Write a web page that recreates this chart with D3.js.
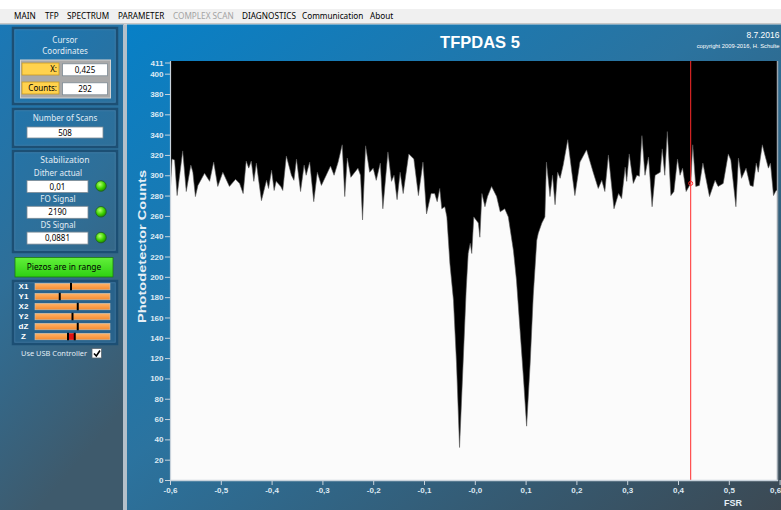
<!DOCTYPE html>
<html lang="en">
<head>
<meta charset="UTF-8">
<title>TFPDAS 5</title>
<script src="https://d3js.org/d3.v7.min.js"></script>
<style>
	html, body {
		margin: 0;
		padding: 0;
		background: #ffffff;
		overflow: hidden;
	}

	svg {
		display: block;
		font-family: "Noto Sans", "Open Sans", sans-serif;
	}

	.menu text {
		font-size: 8.2px;
		fill: #000000;
	}

	.menu text.disabled {
		fill: #a3a3a3;
	}

	.panel text {
		fill: #e2edf5;
		font-size: 8px;
	}

	.panel text.dark {
		fill: #000000;
	}

	.axis text {
		font-family: "Liberation Sans", Arial, sans-serif;
		font-weight: bold;
		font-size: 8px;
		fill: #dde9f3;
	}

	.axis line, .axis path {
		stroke: #c9d3dc;
	}
</style>
</head>
<body>
<svg id="app" width="781" height="510"></svg>
<script>
	const menuItems = ["MAIN", "TFP", "SPECTRUM", "PARAMETER", "COMPLEX SCAN", "DIAGNOSTICS", "Communication", "About"]
	const menuStart = [14, 45, 67, 118, 173, 242, 302, 370]
	const menuDisabled = ["COMPLEX SCAN"]

	// spectrum: FSR position and photodetector counts
	const fsr = [
		-0.600, -0.596, -0.591, -0.586, -0.575, -0.568, -0.559, -0.555, -0.550, -0.545,
		-0.532, -0.522, -0.514, -0.506, -0.496, -0.483, -0.471, -0.463, -0.456, -0.450,
		-0.445, -0.440, -0.435, -0.430, -0.420, -0.410, -0.406, -0.400, -0.395, -0.391,
		-0.382, -0.378, -0.371, -0.361, -0.356, -0.351, -0.343, -0.336, -0.332, -0.325,
		-0.317, -0.310, -0.302, -0.284, -0.277, -0.269, -0.261, -0.256, -0.251, -0.244,
		-0.230, -0.225, -0.221, -0.215, -0.207, -0.200, -0.194, -0.186, -0.181, -0.171,
		-0.164, -0.159, -0.153, -0.147, -0.141, -0.130, -0.120, -0.111, -0.102, -0.095,
		-0.086, -0.079, -0.074, -0.069, -0.065, -0.059,
		-0.055, -0.049, -0.042, -0.036, -0.030, -0.023, -0.017, -0.013, -0.009, -0.006,
		-0.002, 0.007, 0.010, 0.014, 0.020, 0.025, 0.033, 0.043, 0.050, 0.059,
		0.066, 0.076, 0.082, 0.089, 0.096, 0.102, 0.109, 0.115, 0.122, 0.125,
		0.132, 0.138, 0.141,
		0.148, 0.153, 0.158, 0.163, 0.168, 0.174, 0.183, 0.191, 0.197, 0.207,
		0.220, 0.233, 0.243, 0.250, 0.256, 0.263, 0.274, 0.283, 0.289, 0.296,
		0.299, 0.304, 0.312, 0.319, 0.324, 0.329, 0.335, 0.342, 0.349, 0.355,
		0.365, 0.369, 0.374, 0.379, 0.386, 0.392, 0.399, 0.404, 0.409, 0.416,
		0.425, 0.429, 0.435, 0.442, 0.449, 0.462, 0.473, 0.479, 0.489, 0.499,
		0.504, 0.514, 0.519, 0.525, 0.534, 0.542, 0.548, 0.554, 0.558, 0.566,
		0.571, 0.578, 0.582, 0.588, 0.593, 0.600
	]
	const counts = [
		280, 316, 315, 280, 324, 284, 310, 303, 279, 290,
		302, 294, 313, 289, 303, 289, 296, 292, 282, 314,
		307, 314, 294, 312, 275, 295, 287, 305, 285, 294,
		289, 285, 319, 300, 295, 316, 284, 310, 300, 313,
		274, 303, 290, 309, 300, 313, 330, 279, 317, 298,
		307, 300, 256, 329, 303, 307, 295, 312, 267, 323,
		294, 300, 276, 303, 282, 321, 316, 280, 313, 262,
		282, 282, 274, 287, 267, 269,
		259, 213, 177, 115, 32, 115, 187, 223, 233, 223,
		259, 253, 239, 282, 269, 279, 289, 279, 264, 267,
		259, 226, 197, 148, 99, 53, 115, 181, 236, 243,
		253, 259, 313,
		279, 300, 271, 303, 297, 310, 335, 303, 280, 313,
		325, 303, 287, 295, 284, 320, 267, 282, 277, 308,
		294, 321, 292, 300, 299, 339, 300, 318, 269, 300,
		303, 326, 300, 343, 280, 284, 316, 300, 307, 284,
		292, 330, 289, 290, 312, 279, 295, 289, 292, 321,
		315, 269, 317, 297, 307, 290, 289, 312, 303, 330,
		320, 307, 312, 280, 285, 285
	]

	const yTicks = [0, 20, 40, 60, 80, 100, 120, 140, 160, 180, 200, 220, 240, 260, 280, 300, 320, 340, 360, 380, 400, 411]
	const xTicks = [-0.6, -0.5, -0.4, -0.3, -0.2, -0.1, 0, 0.1, 0.2, 0.3, 0.4, 0.5, 0.6]

	const cursorX = 0.425
	const cursorCounts = 292
	const scans = 508
	const stabNames = ["Dither actual", "FO Signal", "DS Signal"]
	const stabValues = ["0,01", "2190", "0,0881"]
	const piezoNames = ["X1", "Y1", "X2", "Y2", "dZ", "Z"]
	const piezoPos = [0.48, 0.33, 0.57, 0.50, 0.57, 0.44]
	const zRange = [0.44, 0.53]

	const svg = d3.select("#app")
	const defs = svg.append("defs")

	function gradient(id, x2, y2, stops) {
		const g = defs.append("linearGradient").attr("id", id)
			.attr("x1", 0).attr("y1", 0).attr("x2", x2).attr("y2", y2)
		stops.forEach(s => g.append("stop").attr("offset", s[0]).attr("stop-color", s[1]))
	}
	gradient("mainBg", 1, 1, [[0, "#0780c7"], [0.45, "#2b739f"], [1, "#3c4953"]])
	gradient("leftBg", 0.3, 1, [[0, "#1a78b6"], [0.5, "#2f6f98"], [1, "#3e5a6c"]])
	gradient("greenBg", 0, 1, [[0, "#62f03a"], [1, "#2ed012"]])
	gradient("orangeBg", 0, 1, [[0, "#ffb46a"], [1, "#f58a2e"]])
	const led = defs.append("radialGradient").attr("id", "led").attr("cx", 0.4).attr("cy", 0.35).attr("r", 0.65)
	led.append("stop").attr("offset", 0).attr("stop-color", "#b8ff70")
	led.append("stop").attr("offset", 0.6).attr("stop-color", "#3fd400")
	led.append("stop").attr("offset", 1).attr("stop-color", "#1f8a00")

	// menu bar
	svg.append("rect").attr("x", 0).attr("y", 0).attr("width", 781).attr("height", 9).attr("fill", "#ffffff")
	svg.append("rect").attr("x", 0).attr("y", 9).attr("width", 781).attr("height", 14).attr("fill", "#f0f0f0")
	svg.append("rect").attr("x", 0).attr("y", 23).attr("width", 781).attr("height", 1.5).attr("fill", "#c6c6c6")
	svg.append("g").classed("menu", true)
		.selectAll("text")
		.data(menuItems)
		.join("text")
		.classed("disabled", d => menuDisabled.includes(d))
		.attr("x", (d, i) => menuStart[i])
		.attr("y", 18.6)
		.text(d => d)

	// backgrounds
	svg.append("rect").attr("x", 0).attr("y", 24.5).attr("width", 124).attr("height", 486).attr("fill", "url(#leftBg)")
	svg.append("rect").attr("x", 127).attr("y", 24.5).attr("width", 654).attr("height", 486).attr("fill", "url(#mainBg)")
	svg.append("rect").attr("x", 123).attr("y", 24.5).attr("width", 4).attr("height", 486).attr("fill", "#b4c0ca")

	// left panel
	const panel = svg.append("g").classed("panel", true)

	function box(x, y, w, h, fill) {
		panel.append("rect").attr("x", x + 1).attr("y", y + 1).attr("width", w - 2).attr("height", h - 2)
			.attr("fill", fill || "none").attr("stroke", "#1c4f74").attr("stroke-width", 2.5)
		panel.append("rect").attr("x", x + 2.8).attr("y", y + 2.8).attr("width", w - 5.6).attr("height", h - 5.6)
			.attr("fill", "none").attr("stroke", "#5d92b8").attr("stroke-opacity", 0.45).attr("stroke-width", 0.8)
	}

	function field(x, y, w, h, value) {
		panel.append("rect").attr("x", x).attr("y", y).attr("width", w).attr("height", h)
			.attr("fill", "#ffffff").attr("stroke", "#7d8a94").attr("stroke-width", 0.8)
		panel.append("text").classed("dark", true).attr("text-anchor", "middle")
			.attr("x", x + w / 2).attr("y", y + h / 2 + 3).text(value)
	}

	function label(text, x, y) {
		return panel.append("text").attr("text-anchor", "middle").attr("x", x).attr("y", y).text(text)
	}

	box(12, 27, 106, 78)
	label("Cursor", 65, 43)
	label("Coordinates", 65, 54)
	panel.append("rect").attr("x", 20.5).attr("y", 60).attr("width", 90).attr("height", 38)
		.attr("fill", "#a9a9a9").attr("stroke", "#d4d4d4").attr("stroke-width", 1)
	const coordNames = ["X:", "Counts:"]
	const coordValues = [cursorX.toFixed(3).replace(".", ","), String(cursorCounts)]
	coordNames.forEach(function (n, i) {
		const y = 63 + i * 19
		panel.append("rect").attr("x", 22).attr("y", y).attr("width", 37).attr("height", 12)
			.attr("fill", "#ffd24d").attr("stroke", "#c79a23").attr("stroke-width", 0.8)
		panel.append("text").classed("dark", true).attr("x", 57).attr("y", y + 9).attr("text-anchor", "end").text(n)
		field(62.5, y + 0.8, 45, 12, coordValues[i])
	})

	box(12, 108, 106, 40)
	label("Number of Scans", 65, 121)
	field(27, 127, 76, 11, String(scans))

	box(12, 150, 106, 103)
	label("Stabilization", 65, 162.5).style("font-size", "8.6px")
	stabNames.forEach(function (n, i) {
		const y = 180.5 + i * 25.8
		label(n, 58, y - 4.5)
		field(27, y, 61, 12, stabValues[i])
		panel.append("circle").attr("cx", 101).attr("cy", y + 5.5).attr("r", 5.3)
			.attr("fill", "url(#led)").attr("stroke", "#1e5a28").attr("stroke-width", 0.8)
	})

	panel.append("rect").attr("x", 15).attr("y", 257.5).attr("width", 98).attr("height", 19.5)
		.attr("fill", "url(#greenBg)").attr("stroke", "#1d7a10").attr("stroke-width", 0.8)
	panel.append("text").classed("dark", true).attr("text-anchor", "middle")
		.attr("x", 64).attr("y", 270.3).style("font-size", "8.4px").text("Piezos are in range")

	box(12, 280, 106, 65, "#28628b")
	const bar = d3.scaleLinear().domain([0, 1]).range([35, 110])
	piezoNames.forEach(function (n, i) {
		const cy = 286.3 + i * 10
		panel.append("text").attr("text-anchor", "middle").attr("x", 23.5).attr("y", cy + 3)
			.style("font-family", "Liberation Sans, Arial, sans-serif")
			.style("font-weight", "bold").style("font-size", "8px").style("fill", "#ffffff")
			.text(n)
		panel.append("rect").attr("x", bar(0)).attr("y", cy - 3).attr("width", bar(1) - bar(0)).attr("height", 6.5)
			.attr("fill", "url(#orangeBg)").attr("stroke", "#c9c1b8").attr("stroke-width", 0.6)
		if (n === "Z") {
			panel.append("rect").attr("x", bar(zRange[0])).attr("y", cy - 3).attr("width", bar(zRange[1]) - bar(zRange[0]))
				.attr("height", 6.5).attr("fill", "#e01212")
			zRange.forEach(v => panel.append("rect").attr("x", bar(v) - 1).attr("y", cy - 3.5).attr("width", 2).attr("height", 7.5).attr("fill", "#000"))
		} else {
			panel.append("rect").attr("x", bar(piezoPos[i]) - 1).attr("y", cy - 3.5).attr("width", 2).attr("height", 7.5).attr("fill", "#000")
		}
	})

	panel.append("text").attr("x", 21).attr("y", 356).attr("text-anchor", "start")
		.style("font-size", "7.4px").text("Use USB Controller")
	panel.append("rect").attr("x", 92).attr("y", 348.5).attr("width", 9.5).attr("height", 9.5)
		.attr("fill", "#ffffff").attr("stroke", "#5a6670").attr("stroke-width", 0.8)
	panel.append("path").attr("d", "M94,353.5 L96.3,356 L100,350.5").attr("fill", "none")
		.attr("stroke", "#000").attr("stroke-width", 1.6)

	// header of the main panel
	svg.append("text").attr("x", 480).attr("y", 48.4).attr("text-anchor", "middle")
		.style("font-family", "Liberation Sans, Arial, sans-serif").style("font-weight", "bold")
		.style("font-size", "16.5px").style("fill", "#ffffff").text("TFPDAS 5")
	svg.append("text").attr("x", 779.5).attr("y", 38.3).attr("text-anchor", "end")
		.style("font-family", "Liberation Sans, Arial, sans-serif").style("font-size", "8.5px").style("fill", "#ffffff")
		.text("8.7.2016")
	svg.append("text").attr("x", 779.5).attr("y", 47.5).attr("text-anchor", "end")
		.style("font-family", "Liberation Sans, Arial, sans-serif").style("font-size", "5.8px").style("fill", "#ffffff")
		.text("copyright 2009-2016, H. Schulte")

	// plot
	const plot = { left: 170, right: 777, top: 61, bottom: 480 }
	const x = d3.scaleLinear().domain([-0.6, 0.6]).range([170, 779.6])
	const y = d3.scaleLinear().domain([0, 411]).range([480, 62.5])
	const data = fsr.map((f, i) => [f, counts[i]])

	defs.append("clipPath").attr("id", "plotClip").append("rect")
		.attr("x", plot.left).attr("y", plot.top).attr("width", plot.right - plot.left).attr("height", plot.bottom - plot.top)

	const g = svg.append("g").attr("clip-path", "url(#plotClip)")
	g.append("rect").attr("x", plot.left).attr("y", plot.top).attr("width", plot.right - plot.left)
		.attr("height", plot.bottom - plot.top).attr("fill", "#000000")
	g.append("path").datum(data)
		.attr("fill", "#fbfbfb")
		.attr("d", d3.area().x(d => x(d[0])).y0(y(0)).y1(d => y(d[1])))
	g.append("path").datum(data)
		.attr("fill", "none").attr("stroke", "#5a5a5a").attr("stroke-width", 0.6)
		.attr("d", d3.line().x(d => x(d[0])).y(d => y(d[1])))
	g.append("line").attr("x1", x(cursorX)).attr("x2", x(cursorX)).attr("y1", plot.top).attr("y2", plot.bottom)
		.attr("stroke", "#ff2a2a").attr("stroke-width", 1)
	g.append("circle").attr("cx", x(cursorX)).attr("cy", y(cursorCounts)).attr("r", 2)
		.attr("fill", "none").attr("stroke", "#ff2a2a").attr("stroke-width", 1)

	// frame
	svg.append("line").attr("x1", plot.right + 0.5).attr("x2", plot.right + 0.5).attr("y1", plot.top).attr("y2", plot.bottom + 1)
		.attr("stroke", "#9aa4ad").attr("stroke-width", 1.5)

	const yAxis = svg.append("g").classed("axis", true)
		.attr("transform", "translate(" + plot.left + ",0)")
		.call(d3.axisLeft(y).tickValues(yTicks).tickSize(5).tickSizeOuter(0).tickPadding(1.5).tickFormat(d => d))
	yAxis.select(".domain").attr("d", "M0.5," + plot.top + "V" + plot.bottom).attr("stroke-width", 1.2)

	const xAxis = svg.append("g").classed("axis", true)
		.attr("transform", "translate(0," + plot.bottom + ")")
		.call(d3.axisBottom(x).tickValues(xTicks).tickSize(5).tickSizeOuter(0).tickPadding(2.5)
			.tickFormat(d => (d <= 0 ? "-" : "") + Math.abs(d).toFixed(1).replace(".", ",")))
	xAxis.select(".domain").attr("d", "M" + plot.left + ",0.5H" + (plot.right + 1)).attr("stroke", "#9aa4ad").attr("stroke-width", 1.5)
	xAxis.selectAll(".tick text").filter(d => d === 0.6).attr("text-anchor", "end").attr("dx", 1)

	svg.append("text")
		.attr("transform", "translate(146,323) rotate(-90)")
		.attr("textLength", 153).attr("lengthAdjust", "spacingAndGlyphs")
		.style("font-family", "Liberation Sans, Arial, sans-serif").style("font-weight", "bold")
		.style("font-size", "11px").style("fill", "#e6eff6")
		.text("Photodetector Counts")
	svg.append("text").attr("x", 733).attr("y", 505.5).attr("text-anchor", "middle")
		.style("font-family", "Liberation Sans, Arial, sans-serif").style("font-weight", "bold")
		.style("font-size", "9px").style("fill", "#e6eff6")
		.text("FSR")
</script>
</body>
</html>
